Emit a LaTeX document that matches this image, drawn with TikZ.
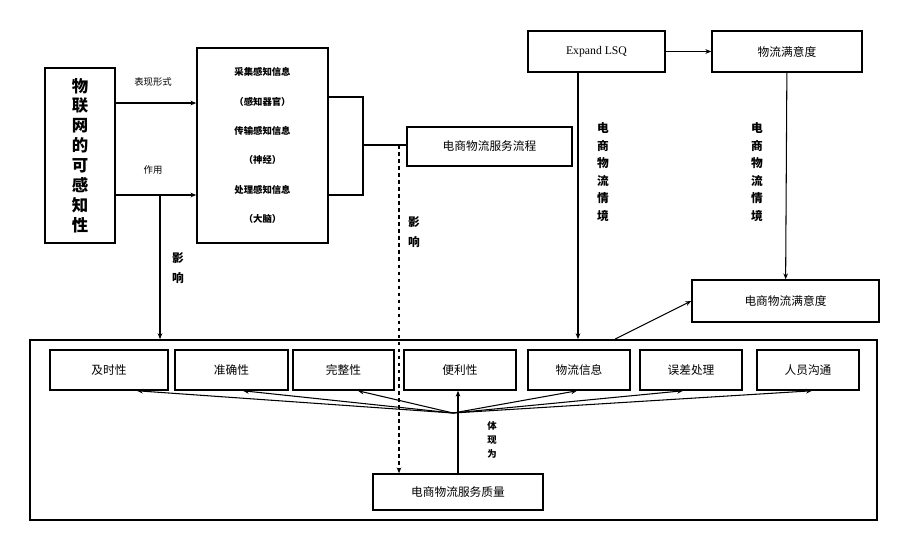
\documentclass[tikz,border=0pt]{standalone}
\usepackage{fontspec}
\setmainfont{Liberation Serif}
\newfontfamily\cjk{Noto Sans CJK SC}
\usetikzlibrary{arrows.meta,calc}

\begin{document}
\begin{tikzpicture}[x=0.03cm, y=-0.03cm, >=Stealth,
  box/.style={draw, line width=1.3pt, inner sep=0pt, font=\cjk\fontsize{10}{12}\selectfont},
  lbl/.style={font=\cjk\fontsize{8}{9.5}\selectfont, align=center, inner sep=1pt},
  vlbl/.style={font=\cjk\bfseries\fontsize{10}{15}\selectfont, align=center, inner sep=1pt},
  arr/.style={->, line width=0.9pt, >={Stealth[length=5pt,width=4pt]}}]
\useasboundingbox (0,0) rectangle (907,547);

% upper left part
\node[box, minimum width=2.1cm, minimum height=5.25cm, align=center,
  font=\cjk\bfseries\fontsize{14}{17}\selectfont] (iot) at (80,155.5)
  {物\\联\\网\\的\\可\\感\\知\\性};
\node[box, minimum width=3.93cm, minimum height=5.85cm, align=center,
  font=\cjk\bfseries\fontsize{8}{25}\selectfont] (layers) at (262.5,145.5)
  {采集感知信息\\（感知器官）\\传输感知信息\\（神经）\\处理感知信息\\（大脑）};
\draw[arr] (iot.east |- 0,103) -- (layers.west |- 0,103);
\draw[arr] (iot.east |- 0,195) -- (layers.west |- 0,195);
\node[lbl] (form) at (153,82) {表现形式};
\node[lbl] (role) at (153,170) {作用};

% process
\node[box, minimum width=4.95cm, minimum height=1.17cm] (flow) at (489.5,146.5) {电商物流服务流程};
\draw[line width=1pt] (layers.east |- 0,97) -- (363,97) -- (363,195) -- (layers.east |- 0,195);
\draw[line width=1pt] (363,145) coordinate (brk) -- (brk -| flow.west);

% upper right part
\node[box, minimum width=4.11cm, minimum height=1.23cm, font=\fontsize{10}{12}\selectfont] (lsq) at (596.5,51.5) {Expand LSQ};
\node[box, minimum width=4.5cm, minimum height=1.23cm] (sat) at (787,51.5) {物流满意度};
\node[box, minimum width=5.61cm, minimum height=1.26cm] (esat) at (785.5,301) {电商物流满意度};
\draw[arr] (lsq) -- (sat);
\draw[arr] (sat) -- (esat);
\node[vlbl] (ctx1) at (603,172) {电\\商\\物\\流\\情\\境};
\node[vlbl] (ctx2) at (757,172) {电\\商\\物\\流\\情\\境};

% quality frame
\node[draw, line width=1.5pt, minimum width=25.41cm, minimum height=5.4cm] (frame) at (453.5,430) {};
\node[box, minimum width=3.54cm, minimum height=1.2cm] (jsx) at (109,370) {及时性};
\node[box, minimum width=3.39cm, minimum height=1.2cm] (zqx) at (231.5,370) {准确性};
\node[box, minimum width=3.03cm, minimum height=1.2cm] (wzx) at (343.5,370) {完整性};
\node[box, minimum width=3.36cm, minimum height=1.2cm] (blx) at (460,370) {便利性};
\node[box, minimum width=3.06cm, minimum height=1.2cm] (wlxx) at (579,370) {物流信息};
\node[box, minimum width=3.06cm, minimum height=1.2cm] (wccl) at (691,370) {误差处理};
\node[box, minimum width=3.06cm, minimum height=1.2cm] (rygt) at (808,370) {人员沟通};
\node[box, minimum width=5.1cm, minimum height=1.08cm] (quality) at (458,492) {电商物流服务质量};

% influences
\draw[arr] (160,195) -- (160,0 |- frame.north);
\node[vlbl, font=\cjk\bfseries\fontsize{10}{17}\selectfont] (eff1) at (178,268) {影\\响};
\draw[arr, dashed] (399,0 |- brk) -- (399,0 |- quality.north);
\node[vlbl, font=\cjk\bfseries\fontsize{10}{17}\selectfont] (eff2) at (414,232) {影\\响};
\draw[arr] (578,0 |- lsq.south) -- (578,0 |- frame.north);
\draw[arr] (615,0 |- frame.north) -- (esat.west);

% fan
\coordinate (fan) at (453,413);
\foreach \n/\x in {jsx/137,zqx/243,wzx/358,wlxx/577,wccl/683,rygt/812}
  \draw[arr] (fan) -- (\x,0 |- \n.south);
\draw[arr] (quality.north) -- (quality.north |- blx.south);
\node[vlbl, font=\cjk\bfseries\fontsize{8}{12}\selectfont] (show) at (492,440) {体\\现\\为};
\end{tikzpicture}
\end{document}
